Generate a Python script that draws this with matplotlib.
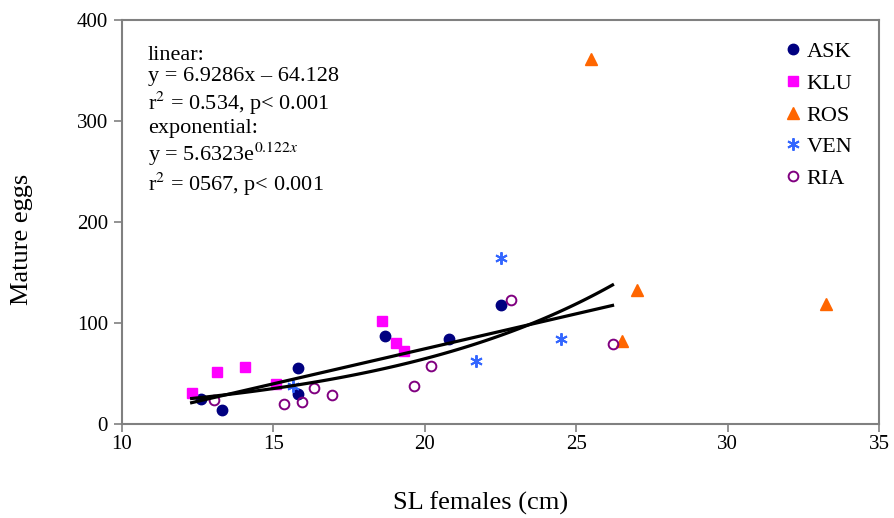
import matplotlib
matplotlib.use("Agg")
import matplotlib.pyplot as plt
import numpy as np

plt.rcParams['font.family'] = ['Liberation Serif', 'DejaVu Serif']

# data
ask_x = [12.6, 13.3, 15.8, 15.8, 18.7, 20.8, 22.5]
ask_y = [25, 14, 55, 30, 87, 84, 118]

klu_x = [12.3, 13.15, 14.05, 15.1, 18.6, 19.05, 19.3]
klu_y = [31, 51, 56, 40, 102, 80, 72]

ros_x = [25.5, 27.0, 26.5, 33.25]
ros_y = [361, 133, 82, 119]

ven_x = [15.65, 21.7, 22.5, 24.5]
ven_y = [38, 62, 164, 84]

ria_x = [13.05, 15.35, 15.95, 16.35, 16.95, 19.65, 20.2, 22.85, 26.2]
ria_y = [24, 20, 22, 36, 29, 38, 57, 123, 79]

lin_a, lin_b = 6.9286, -64.128
exp_a, exp_b = 5.6323, 0.122
fit_xmin, fit_xmax = 12.3, 26.2

fig = plt.figure(figsize=(8.94, 5.18), dpi=100)
ax = fig.add_axes([122/894, 1 - 424/518, (879-122)/894, (424-20)/518])

ax.plot(ask_x, ask_y, 'o', color='#000080', ms=7.5, ls='none', label='ASK')
ax.plot(klu_x, klu_y, 's', color='#FF00FF', ms=7, ls='none', label='KLU')
ax.plot(ros_x, ros_y, '^', color='#FF6600', ms=8.5, ls='none', label='ROS')
ax.plot(ven_x, ven_y, marker=(6, 2, 0), color='#3366FF', ms=9, mew=1.4,
        ls='none', label='VEN')
ax.plot(ria_x, ria_y, 'o', mfc='none', mec='#800080', mew=1.4, ms=7,
        ls='none', label='RIA')

xs = np.linspace(fit_xmin, fit_xmax, 100)
ax.plot(xs, lin_a * xs + lin_b, color='black', lw=2.3)
ax.plot(xs, exp_a * np.exp(exp_b * xs), color='black', lw=2.3)

ax.set_xlim(10, 35)
ax.set_ylim(0, 400)
ax.set_xticks(range(10, 36, 5))
ax.set_yticks(range(0, 401, 100))
ax.tick_params(labelsize=15, color='#808080', width=1.2, length=6,
               direction='out', pad=4)
ax.tick_params(axis='x', pad=2)
for s in ax.spines.values():
    s.set_color('#808080')
    s.set_linewidth(1.5)

fig.text(481/894, 1 - 503/518, 'SL females (cm)', fontsize=19,
         ha='center', va='center')
fig.text(22/894, 1 - 239/518, 'Mature eggs', fontsize=19, rotation=90,
         ha='center', va='center')

txt = ("linear:\n"
       "y = 6.9286x – 64.128\n"
       "r$^2$ = 0.534, p< 0.001\n"
       "exponential:\n"
       "y = 5.6323e$^{0.122x}$\n"
       "r$^2$ = 0567, p< 0.001")
ax.text(0.034, 0.935, txt, transform=ax.transAxes, fontsize=16,
        va='top', ha='left', linespacing=1.15,
        math_fontfamily='stix')

ax.legend(loc='upper right', frameon=False, fontsize=16, handletextpad=0.1,
          labelspacing=0.5, handlelength=1.0, bbox_to_anchor=(0.985, 0.985),
          borderaxespad=0.3)

fig.savefig('out.png', dpi=100)
